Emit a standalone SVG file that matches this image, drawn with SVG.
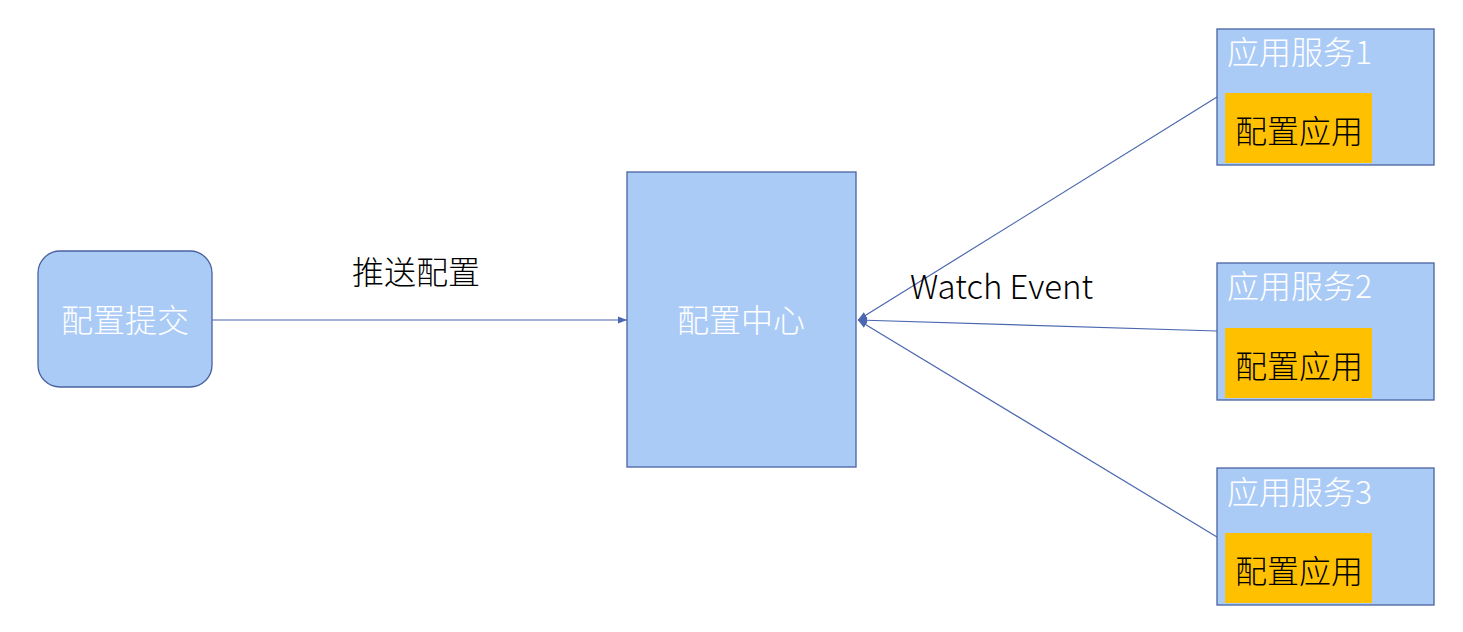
<svg xmlns="http://www.w3.org/2000/svg" width="1463" height="632" viewBox="0 0 1463 632">
<style>
.box{fill:#abcbf7;stroke:#4a62a0;stroke-width:1.3}
.inner{fill:#ffc000}
.wt{fill:#ffffff;font-family:"Noto Sans CJK SC","Noto Sans",sans-serif;font-size:32px;font-weight:300}
.bt{fill:#000000;font-family:"Noto Sans CJK SC","Noto Sans",sans-serif;font-size:32px;font-weight:300}
.ln{stroke:#4a67b0;stroke-width:1.2;fill:none}
</style>
<defs>
<marker id="ah" viewBox="0 0 10 10" refX="10" refY="5" markerWidth="9" markerHeight="9" markerUnits="userSpaceOnUse" orient="auto">
<path d="M0,1 L10,5 L0,9 Z" fill="#4a67b0"/>
</marker>
</defs>
<rect width="1463" height="632" fill="#ffffff"/>
<g id="connectors">
<line class="ln" x1="212" y1="320" x2="627" y2="320" marker-end="url(#ah)"/>
<line class="ln" x1="1217" y1="97" x2="858" y2="320" marker-end="url(#ah)"/>
<line class="ln" x1="1217" y1="331" x2="858" y2="320" marker-end="url(#ah)"/>
<line class="ln" x1="1217" y1="537" x2="858" y2="320" marker-end="url(#ah)"/>
<text class="bt" x="352" y="284">推送配置</text>
<text class="bt" x="910" y="299" style="font-size:33px">Watch Event</text>
</g>
<g id="submit">
<rect class="box" x="38" y="251" width="174" height="136" rx="22"/>
<text class="wt" x="125" y="332" text-anchor="middle">配置提交</text>
</g>
<g id="center">
<rect class="box" x="627" y="172" width="229" height="295"/>
<text class="wt" x="741" y="332" text-anchor="middle">配置中心</text>
</g>
<g id="svc1">
<rect class="box" x="1217" y="29" width="217" height="136"/>
<text class="wt" x="1227" y="64">应用服务1</text>
<rect class="inner" x="1225" y="93" width="147" height="70"/>
<text class="bt" x="1235" y="143">配置应用</text>
</g>
<g id="svc2">
<rect class="box" x="1217" y="263" width="217" height="137"/>
<text class="wt" x="1227" y="298">应用服务2</text>
<rect class="inner" x="1225" y="328" width="147" height="70"/>
<text class="bt" x="1235" y="378">配置应用</text>
</g>
<g id="svc3">
<rect class="box" x="1217" y="468" width="217" height="137"/>
<text class="wt" x="1227" y="504">应用服务3</text>
<rect class="inner" x="1225" y="533" width="147" height="70"/>
<text class="bt" x="1235" y="583">配置应用</text>
</g>
</svg>
